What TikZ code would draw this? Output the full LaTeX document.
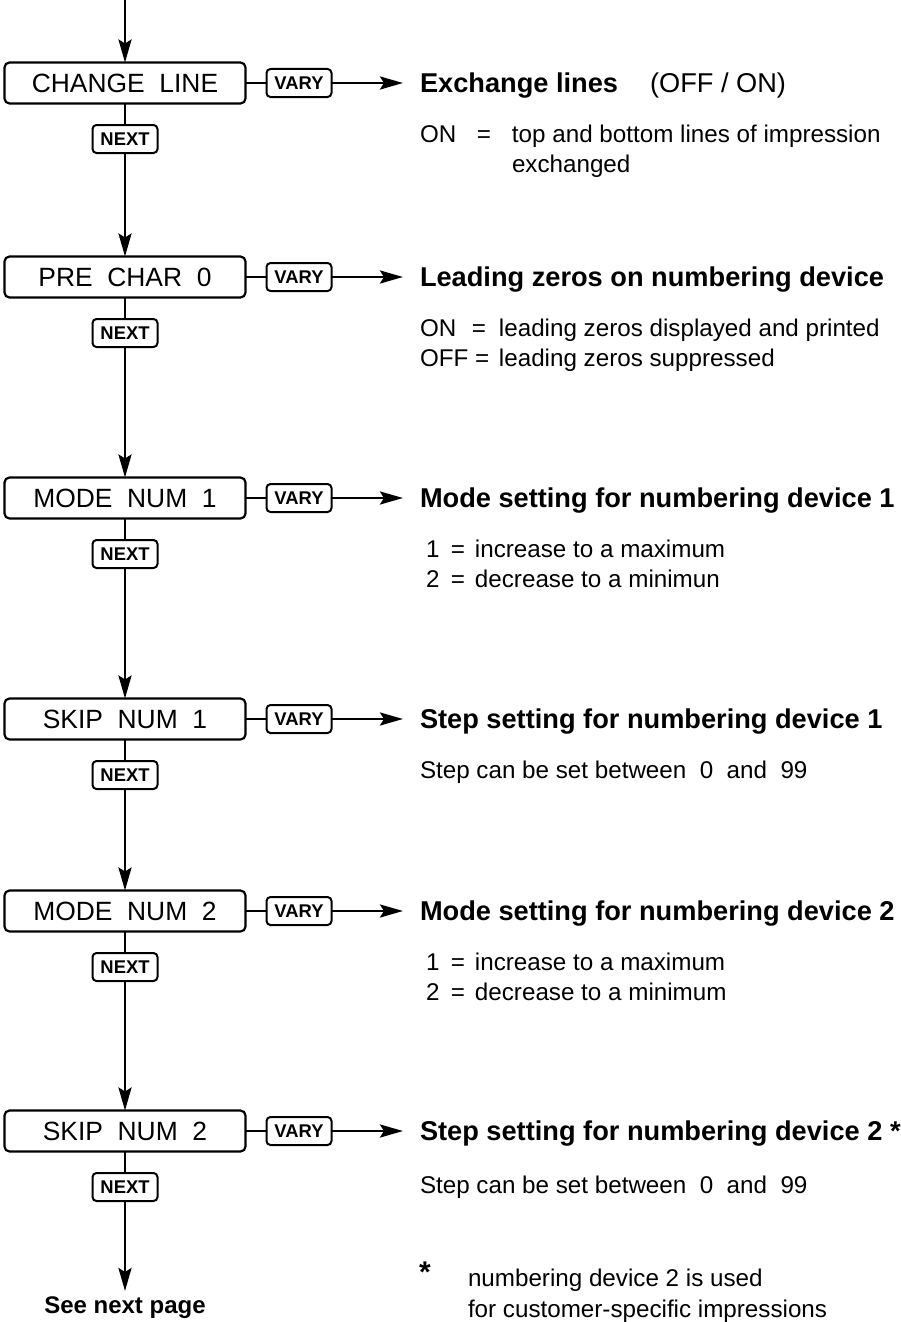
\documentclass[tikz,border=0pt]{standalone}
\usepackage{fontspec}
\setmainfont{Liberation Sans}
\usetikzlibrary{positioning,arrows.meta}

\begin{document}
\begin{tikzpicture}[
    x=1pt,y=-1pt,
    every node/.style={
        inner sep=0pt,
        outer sep=0pt,
    },
    link/.style={
        line width=2.8pt,
    },
    flow/.style={
        line width=2.8pt,
        -{Stealth[length=23pt,width=13pt,inset=4pt]},
    },
    menubox/.style={
        draw,rectangle,
        line width=2.2pt,
        rounded corners=5pt,
        minimum width=241pt,
        minimum height=41pt,
        font=\fontsize{26.4}{30}\selectfont,
    },
    keybox/.style={
        draw,rectangle,
        line width=2pt,
        rounded corners=4pt,
        minimum width=65pt,
        minimum height=28pt,
        font=\fontsize{18.4}{20}\selectfont\bfseries,
    },
    headtext/.style={
        anchor=west,
        text height=19pt,
        text depth=0pt,
        font=\fontsize{27.2}{30}\selectfont\bfseries,
    },
    bodytext/.style={
        anchor=west,
        text height=17pt,
        text depth=0pt,
        font=\fontsize{24.2}{30}\selectfont,
    }
]
    \useasboundingbox (0,0) rectangle (900,1322);
    % menu column
    \foreach \n/\y/\txt in {%
        1/83/{CHANGE\ \ LINE},
        2/277/{PRE\ \ CHAR\ \ 0},
        3/498/{MODE\ \ NUM\ \ 1},
        4/719/{SKIP\ \ NUM\ \ 1},
        5/911/{MODE\ \ NUM\ \ 2},
        6/1131/{SKIP\ \ NUM\ \ 2}%no comma after
    }{
        \node[menubox] (box\n) at (125,\y) {\txt};
        \node[keybox] (vary\n) at (299,\y) {VARY};
        \node[keybox] (next\n) at (125,\y+56) {NEXT};
        \draw[link] (box\n) -- (vary\n);
        \draw[link] (box\n) -- (next\n);
    }
    \coordinate (start) at (125,0);
    \node[anchor=north,font=\fontsize{24}{28}\selectfont\bfseries] (seenext) at (125,1297) {See next page};
    \draw[flow] (start) -- (box1);
    \foreach \n/\m in {1/2,2/3,3/4,4/5,5/6}{
        \draw[flow] (next\n) -- (box\m);
    }
    \draw[flow,shorten >=6pt] (next6) -- (seenext);

    % headings
    \node[headtext] (head1) at (420,83) {Exchange lines\hspace{32pt}\mdseries(OFF / ON)};
    \node[headtext] (head2) at (420,277) {Leading zeros on numbering device};
    \node[headtext] (head3) at (420,498) {Mode setting for numbering device 1};
    \node[headtext] (head4) at (420,719) {Step setting for numbering device 1};
    \node[headtext] (head5) at (420,911) {Mode setting for numbering device 2};
    \node[headtext] (head6) at (420,1131) {Step setting for numbering device 2 *};
    \foreach \n in {1,...,6}{
        \draw[flow,shorten >=17pt] (vary\n) -- (head\n.west);
    }

    % descriptions
    \node[bodytext] (on1) at (420,134) {\makebox[57pt][l]{ON}\makebox[35pt][l]{=}top and bottom lines of impression};
    \node[bodytext] (exch1) at (512,164) {exchanged};
    \node[bodytext] (on2) at (420,328) {\makebox[52pt][l]{ON}\makebox[27pt][l]{=}leading zeros displayed and printed};
    \node[bodytext] (off2) at (420,358) {\makebox[52pt][l]{OFF =}\makebox[27pt][l]{}leading zeros suppressed};
    \node[bodytext] (inc3) at (426,549) {\makebox[25pt][l]{1}\makebox[24pt][l]{=}increase to a maximum};
    \node[bodytext] (dec3) at (426,579) {\makebox[25pt][l]{2}\makebox[24pt][l]{=}decrease to a minimun};
    \node[bodytext] (stp4) at (420,770) {Step can be set between\ \ 0\ \ and\ \ 99};
    \node[bodytext] (inc5) at (426,962) {\makebox[25pt][l]{1}\makebox[24pt][l]{=}increase to a maximum};
    \node[bodytext] (dec5) at (426,992) {\makebox[25pt][l]{2}\makebox[24pt][l]{=}decrease to a minimum};
    \node[bodytext] (stp6) at (420,1185) {Step can be set between\ \ 0\ \ and\ \ 99};
    \node[anchor=north west,font=\fontsize{30}{30}\selectfont\bfseries] (star) at (419,1262) {*};
    \node[bodytext] (note1) at (468,1278) {numbering device 2 is used};
    \node[bodytext] (note2) at (468,1309) {for customer-specific impressions};
\end{tikzpicture}
\end{document}
